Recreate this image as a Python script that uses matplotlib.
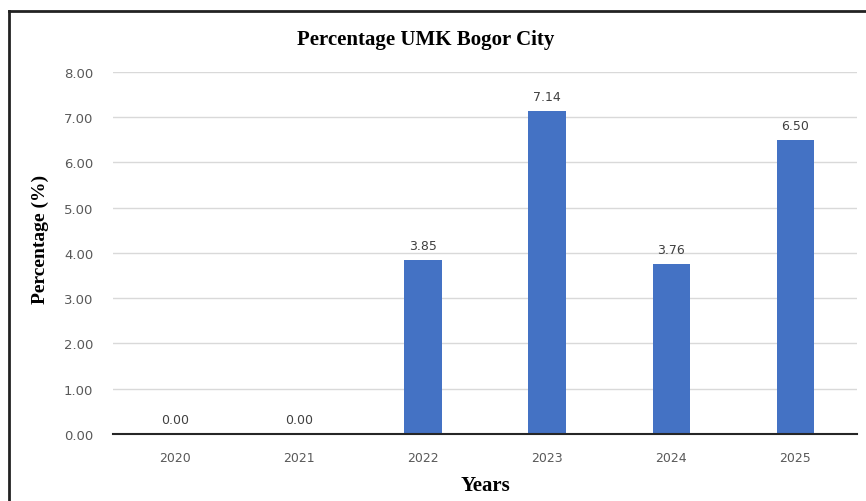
from matplotlib import pyplot as plt
from matplotlib.lines import Line2D

years = ['2020', '2021', '2022', '2023', '2024', '2025']
percentage = [0.00, 0.00, 3.85, 7.14, 3.76, 6.50]
y_ticks = [0, 1, 2, 3, 4, 5, 6, 7, 8]

fig = plt.figure(figsize=(8.66, 5.02), dpi=100)
ax = fig.add_axes([0.130, 0.1335, 0.860, 0.7211])

x = range(len(years))
bars = ax.bar(x, percentage, width=0.3, color='#4472C4', zorder=3)

for xi, v in zip(x, percentage):
    ax.text(xi, v + 0.18, '%.2f' % v, ha='center', va='bottom',
            fontsize=9, color='#404040', family='DejaVu Sans')

ax.set_xlim(-0.5, 5.5)
ax.set_ylim(0, 8)
ax.set_yticks(y_ticks)
ax.set_yticklabels(['%.2f' % t for t in y_ticks], family='DejaVu Sans',
                   fontsize=9.5, color='#595959')
ax.set_xticks(list(x))
ax.set_xticklabels(years, family='DejaVu Sans', fontsize=9, color='#595959')
ax.tick_params(axis='both', length=0, pad=12)
ax.tick_params(axis='y', pad=14)

ax.yaxis.grid(True, color='#d9d9d9', linewidth=1, zorder=0)
for s in ['top', 'right', 'left']:
    ax.spines[s].set_visible(False)
ax.spines['bottom'].set_color('#262626')
ax.spines['bottom'].set_linewidth(1.5)
ax.spines['bottom'].set_zorder(4)

ax.set_xlabel('Years', family='Liberation Serif', fontweight='bold',
              fontsize=15, labelpad=8)
ax.set_ylabel('Percentage (%)', family='Liberation Serif', fontweight='bold',
              fontsize=14, labelpad=12)
ax.yaxis.set_label_coords(-0.086, 0.54)
fig.text(426 / 866, 1 - 40 / 502, 'Percentage UMK Bogor City',
         family='Liberation Serif', fontweight='bold', fontsize=15,
         ha='center', va='center')

# outer frame (left and top edges visible)
fig.add_artist(Line2D([9 / 866, 9 / 866], [0, 1 - 12 / 502],
                      transform=fig.transFigure, color='#222222', linewidth=2))
fig.add_artist(Line2D([9 / 866, 1], [1 - 12 / 502, 1 - 12 / 502],
                      transform=fig.transFigure, color='#222222', linewidth=2))

plt.savefig('out.png', dpi=100)
